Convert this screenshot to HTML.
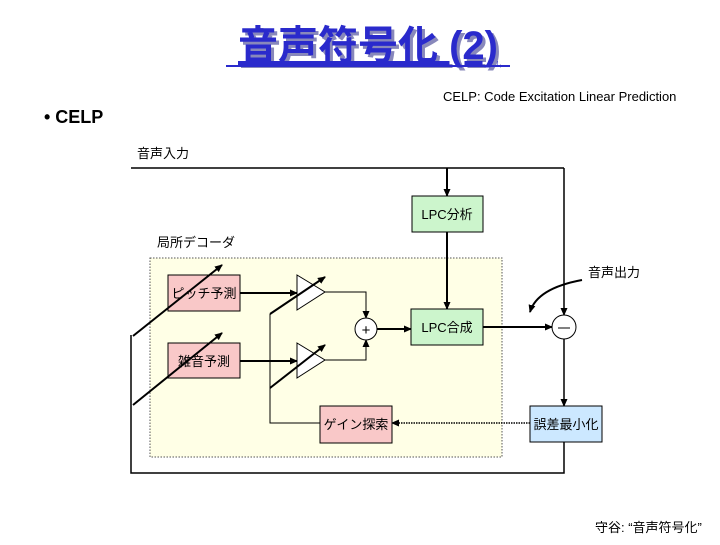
<!DOCTYPE html>
<html><head><meta charset="utf-8"><style>
body{margin:0;width:720px;height:540px;background:#fff;overflow:hidden;font-family:"Liberation Sans","Noto Sans CJK JP",sans-serif;}
</style></head><body>
<svg width="720" height="540" viewBox="0 0 720 540" xmlns="http://www.w3.org/2000/svg" style="font-family:'Liberation Sans','Noto Sans CJK JP',sans-serif">
<defs>
<marker id="a" markerWidth="8" markerHeight="8" refX="7" refY="4" orient="auto" markerUnits="userSpaceOnUse"><path d="M0,0.5 L8,4 L0,7.5z" fill="#000"/></marker>
</defs>
<text x="371" y="62" text-anchor="middle" font-size="40" font-weight="bold" fill="#8888bb" text-decoration="underline">音声符号化 (2)</text>
<text x="368" y="59" text-anchor="middle" font-size="40" font-weight="bold" fill="#2a2acc" text-decoration="underline">音声符号化 (2)</text>
<line x1="226" y1="66" x2="510" y2="66" stroke="#2a2acc" stroke-width="2"/>
<text x="443" y="101" font-size="13">CELP: Code Excitation Linear Prediction</text>
<text x="44" y="123" font-size="18" font-weight="bold">• CELP</text>
<text x="137" y="158" font-size="13">音声入力</text>
<text x="157" y="247" font-size="13">局所デコーダ</text>
<text x="588" y="277" font-size="13">音声出力</text>
<text x="595" y="532" font-size="13">守谷: “音声符号化”</text>
<rect x="150" y="258" width="352" height="199" fill="#ffffe6" stroke="#555" stroke-dasharray="1.5,1.5"/>
<g stroke="#000" fill="none">
<line x1="131" y1="168" x2="564" y2="168" stroke-width="1.5"/>
<line x1="447" y1="168" x2="447" y2="196" stroke-width="2" marker-end="url(#a)"/>
<line x1="447" y1="232" x2="447" y2="309" stroke-width="2" marker-end="url(#a)"/>
<line x1="564" y1="168" x2="564" y2="315" stroke-width="1.5" marker-end="url(#a)"/>
<line x1="483" y1="327" x2="552" y2="327" stroke-width="2" marker-end="url(#a)"/>
<line x1="564" y1="339" x2="564" y2="406" stroke-width="1.5" marker-end="url(#a)"/>
<polyline points="564,442 564,473 131,473 131,335" stroke-width="1.5"/>
<line x1="530" y1="423" x2="392" y2="423" stroke-width="1.5" stroke-dasharray="1.5,1" marker-end="url(#a)"/>
<path d="M582,280 C555,285 535,295 530,312" stroke-width="2" marker-end="url(#a)"/>
<line x1="240" y1="293" x2="297" y2="293" stroke-width="2" marker-end="url(#a)"/>
<line x1="240" y1="361" x2="297" y2="361" stroke-width="2" marker-end="url(#a)"/>
<polyline points="325,292 366,292 366,318" stroke-width="1" marker-end="url(#a)"/>
<polyline points="325,360 366,360 366,340" stroke-width="1" marker-end="url(#a)"/>
<line x1="377" y1="329" x2="411" y2="329" stroke-width="2" marker-end="url(#a)"/>
<polyline points="270,314 270,423 320,423" stroke-width="1"/>
</g>
<polygon points="297,275 325,292 297,310" fill="#fff" stroke="#000"/>
<polygon points="297,343 325,360 297,378" fill="#fff" stroke="#000"/>
<rect x="168" y="275" width="72" height="36" fill="#f9c8c8" stroke="#000"/>
<rect x="168" y="343" width="72" height="35" fill="#f9c8c8" stroke="#000"/>
<rect x="320" y="406" width="72" height="37" fill="#f9c8c8" stroke="#000"/>
<rect x="412" y="196" width="71" height="36" fill="#ccf5cc" stroke="#000"/>
<rect x="411" y="309" width="72" height="36" fill="#ccf5cc" stroke="#000"/>
<rect x="530" y="406" width="72" height="36" fill="#cce8ff" stroke="#000"/>
<circle cx="366" cy="329" r="11" fill="#fff" stroke="#000"/>
<circle cx="564" cy="327" r="12" fill="#fff" stroke="#000"/>
<text x="366" y="335" text-anchor="middle" font-size="15">+</text>
<line x1="558" y1="328" x2="570" y2="328" stroke="#000"/>
<g font-size="13" text-anchor="middle">
<text x="204" y="298">ピッチ予測</text>
<text x="204" y="366">雑音予測</text>
<text x="356" y="429">ゲイン探索</text>
<text x="447" y="219">LPC分析</text>
<text x="447" y="332">LPC合成</text>
<text x="566" y="429">誤差最小化</text>
</g>
<g stroke="#000" stroke-width="2">
<line x1="133" y1="336" x2="222" y2="265" marker-end="url(#a)"/>
<line x1="133" y1="405" x2="222" y2="333" marker-end="url(#a)"/>
<line x1="270" y1="314" x2="325" y2="277" marker-end="url(#a)"/>
<line x1="270" y1="388" x2="325" y2="345" marker-end="url(#a)"/>
</g>
</svg>
</body></html>
